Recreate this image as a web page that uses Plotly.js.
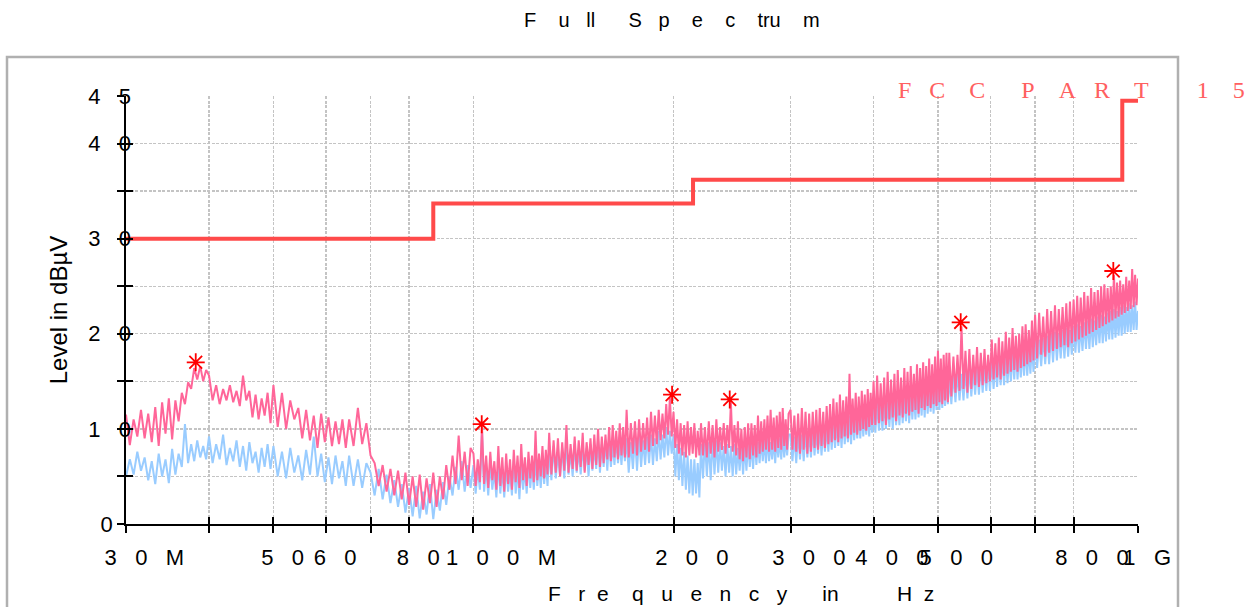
<!DOCTYPE html>
<html><head><meta charset="utf-8">
<script src="https://cdn.plot.ly/plotly-3.0.1.min.js"></script>
<style>html,body{margin:0;padding:0;background:#fff}</style>
</head><body><div id="chart" style="width:1253px;height:607px"></div>
<script>
// Frequencies in MHz
const freqMHz = [
 30,30.4,30.8,31.2,31.6,32,32.4,32.8,33.2,33.6,34,34.4,34.8,35.2,35.6,36,36.4,36.8,37.2,37.6,38,38.4,38.8,39.2,39.6,
 40,40.5,41,41.5,42,42.5,43,43.5,44,44.5,45,45.5,46,46.5,47,47.5,48,48.5,49,49.5,
 50,50.75,51.5,52.25,53,53.75,54.5,55.25,56,56.75,57.5,58.25,59,59.75,60.5,61.25,62,62.75,63.5,64.25,
 65,66,67,68,69,70,71,72,73,74,75,76,77,78,79,80,81,82,83,84,85,86,87,88,89,90,91,92,93,94,95,96,97,98,99,
 100,100.75,101.5,102.25,103,103.75,104.5,105.25,106,106.75,107.5,108.25,109,109.75,110.5,111.25,112,112.75,113.5,114.25,
 115,115.75,116.5,117.25,118,118.75,119.5,120.25,121,121.75,122.5,123.25,124,124.75,125.5,126.25,127,127.75,128.5,129.25,
 130,131,132,133,134,135,136,137,138,139,140,141,142,143,144,145,146,147,148,149,
 150,151,152,153,154,155,156,157,158,159,160,161,162,163,164,165,166,167,168,169,
 170,171.25,172.5,173.75,175,176.25,177.5,178.75,180,181.25,182.5,183.75,185,186.25,187.5,188.75,190,191.25,192.5,193.75,
 195,196.25,197.5,198.75,200,201.25,202.5,203.75,205,206.25,207.5,208.75,210,211.25,212.5,213.75,215,216.25,217.5,218.75,
 220,221.5,223,224.5,226,227.5,229,230.5,232,233.5,235,236.5,238,239.5,241,242.5,244,245.5,247,248.5,
 250,251.5,253,254.5,256,257.5,259,260.5,262,263.5,265,266.5,268,269.5,271,272.5,274,275.5,277,278.5,
 280,281.5,283,284.5,286,287.5,289,290.5,292,293.5,295,296.5,298,
 300,302,304,306,308,310,312,314,316,318,320,322,324,326,328,330,332,334,336,338,
 340,342,344,346,348,350,352,354,356,358,360,362,364,366,368,370,372,374,376,378,
 380,382,384,386,388,390,392,394,396,398,
 400,402.5,405,407.5,410,412.5,415,417.5,420,422.5,425,427.5,430,432.5,435,437.5,440,442.5,445,447.5,
 450,452.5,455,457.5,460,462.5,465,467.5,470,472.5,475,477.5,480,482.5,485,487.5,490,492.5,495,497.5,
 500,502.5,505,507.5,510,512.5,515,517.5,
 520,523.75,527.5,531.25,535,538.75,542.5,546.25,550,553.75,557.5,561.25,565,568.75,572.5,576.25,580,583.75,587.5,591.25,
 595,598.75,602.5,606.25,610,613.75,617.5,621.25,625,628.75,632.5,636.25,640,643.75,647.5,651.25,655,658.75,662.5,666.25,
 670,673.75,677.5,681.25,685,688.75,692.5,696.25,
 700,705,710,715,720,725,730,735,740,745,750,755,760,765,770,775,780,785,790,795,
 800,805,810,815,820,825,830,835,840,845,850,855,860,865,870,875,880,885,890,895,
 900,905,910,915,920,925,930,935,940,945,950,955,960,965,970,975,980,985,990,995,1000
];
// Peak detector level (dBµV)
const peakLevel = [
 11.5,8.3,11.0,9.2,12.0,9.0,11.6,8.6,12.3,8.2,12.8,9.5,13.2,8.9,13.0,10.8,13.8,12.6,14.9,14.2,16.4,15.2,16.6,15.0,16.2,
 15.6,13.0,14.6,12.6,14.2,13.0,14.6,12.8,14.0,12.4,15.6,13.0,14.0,11.2,13.6,11.0,13.2,11.4,13.8,10.6,
 14.6,10.2,13.8,10.0,13.0,11.0,12.2,9.0,12.0,8.8,11.4,8.0,11.6,8.6,11.2,8.2,10.8,8.4,11.0,8.0,
 11.0,8.2,12.2,8.4,10.6,7.2,6.4,4.0,6.2,3.4,5.8,3.0,5.6,2.6,5.4,2.0,5.0,1.8,5.2,1.5,4.8,2.2,5.4,1.8,5.0,2.6,6.2,3.6,7.2,4.2,9.3,4.6,7.6,4.0,8.0,
 7.4,4.0,6.8,4.4,10.2,4.2,7.2,3.8,7.6,4.6,6.6,3.6,8.2,4.0,7.0,3.4,7.4,4.2,6.8,3.6,
 7.8,4.4,7.2,3.8,8.4,4.6,7.0,4.0,7.6,4.8,7.2,4.4,9.8,4.6,7.4,5.0,8.2,4.8,7.8,5.2,
 9.6,5.2,8.8,5.4,9.0,5.0,8.6,5.6,10.4,5.4,8.4,5.8,9.2,5.6,8.8,6.0,9.6,5.4,8.6,6.2,
 9.0,5.8,9.4,6.2,10.0,6.0,9.2,6.4,9.4,6.8,10.2,6.6,10.4,7.0,9.8,6.8,10.6,7.2,10.2,7.0,
 12.0,7.0,10.6,7.4,10.8,7.2,11.0,7.6,10.6,7.8,11.2,7.6,11.8,8.2,11.4,8.4,12.0,8.8,11.6,9.0,
 12.6,9.4,13.3,9.2,11.8,8.0,11.0,7.4,10.6,7.2,10.4,7.0,10.8,7.2,10.2,7.4,10.6,7.0,9.8,7.2,
 10.6,7.2,10.2,7.0,10.8,7.4,10.4,7.0,11.0,7.6,10.2,7.8,10.6,7.4,10.4,8.0,12.8,7.6,10.4,7.2,
 10.8,6.8,10.0,6.6,10.2,7.0,10.6,6.8,10.6,7.2,10.4,7.0,11.4,7.4,10.8,7.6,11.0,7.8,11.4,7.6,
 12.0,7.8,11.2,7.6,11.4,8.0,11.8,7.8,12.2,8.2,11.0,7.8,11.6,
 12.0,7.8,11.4,7.6,11.6,7.4,12.2,7.8,11.8,7.4,11.6,7.6,11.8,8.0,12.0,7.8,12.2,8.2,11.8,8.0,
 12.4,8.4,12.6,8.6,13.2,8.8,12.8,8.6,13.6,9.0,13.0,9.2,13.4,9.0,15.8,9.4,13.2,9.6,13.8,9.4,
 13.4,9.8,14.0,10.0,13.6,9.8,14.2,10.2,13.8,10.4,
 15.0,10.4,15.6,10.6,14.8,10.8,15.4,10.4,16.0,11.0,15.2,11.2,15.8,10.8,16.2,11.4,15.4,11.2,16.4,11.6,
 16.0,11.4,16.6,11.8,15.8,12.0,16.8,11.6,16.4,12.2,17.0,12.0,16.6,12.4,17.4,12.2,16.8,12.6,17.6,12.4,
 18.2,12.8,17.4,12.6,17.8,13.0,18.0,12.8,
 18.0,13.4,17.6,13.8,17.8,14.0,20.8,14.2,18.2,13.8,18.4,14.2,17.8,14.6,18.6,14.4,18.0,14.6,18.4,14.8,
 17.8,15.0,19.4,15.2,19.0,15.4,19.6,15.2,19.2,15.6,20.2,15.8,19.6,16.0,20.6,16.2,19.8,16.0,20.0,16.4,
 20.8,16.6,21.0,16.8,20.4,17.0,21.4,17.2,
 22.0,17.4,22.2,17.8,21.8,17.6,22.6,18.0,22.4,18.2,23.0,18.4,22.6,18.6,22.8,18.8,23.2,18.6,23.4,19.0,
 23.6,19.2,24.0,19.4,23.8,19.6,24.4,19.8,24.0,20.0,24.8,20.2,24.4,20.4,24.6,20.6,25.0,20.8,25.2,21.0,
 24.8,21.2,25.0,21.4,26.2,21.6,25.4,21.8,25.6,22.0,25.2,22.2,26.0,22.4,25.6,22.6,26.8,22.8,26.2,23.0,25.8
];
// Average detector level (dBµV)
const avgLevel = [
 5.0,6.8,5.2,7.6,5.6,7.0,4.6,6.6,4.2,7.4,5.0,6.8,4.3,7.9,5.2,7.4,6.0,10.5,6.4,8.4,6.6,8.8,7.0,8.2,6.8,
 9.2,6.4,8.4,6.8,9.4,6.2,8.0,6.6,8.8,6.0,8.2,5.6,8.6,6.4,7.6,5.4,8.0,6.0,8.4,5.8,
 8.2,5.0,7.6,4.8,8.0,5.4,7.2,4.6,7.8,5.2,9.2,5.0,7.4,4.4,7.0,4.2,7.2,4.8,6.6,4.0,
 7.2,4.0,6.8,3.8,6.4,5.4,3.0,5.8,2.6,5.2,2.2,4.6,1.8,4.2,1.2,3.8,0.8,4.0,0.6,3.4,1.0,4.2,0.5,3.6,1.4,4.4,2.0,5.0,3.0,6.0,3.6,6.6,3.4,6.2,3.8,
 6.2,3.2,5.8,3.6,9.8,3.4,6.0,3.0,6.4,3.6,5.6,2.8,6.4,3.2,5.8,2.8,6.2,3.4,5.6,3.0,
 6.8,3.2,6.0,2.6,6.2,3.6,5.8,3.2,6.6,3.8,6.2,3.6,7.0,4.0,6.4,3.8,6.8,4.2,6.6,4.0,
 7.8,4.6,8.2,4.8,7.4,5.0,8.0,4.8,8.6,5.2,7.6,5.0,8.4,5.4,7.8,5.2,8.2,5.6,8.0,5.0,
 8.4,5.6,8.0,5.8,8.8,5.4,8.4,6.0,8.8,5.6,9.0,6.0,8.4,6.2,9.2,6.4,8.6,6.2,9.0,6.6,
 9.0,5.4,8.6,5.8,9.2,5.6,9.4,6.0,8.8,6.2,9.2,6.4,9.4,6.2,9.0,6.6,9.8,6.8,9.4,7.0,
 10.2,7.2,9.8,7.4,9.4,5.0,8.4,4.6,8.0,4.0,7.6,3.6,7.2,3.2,6.8,3.0,6.8,3.2,6.4,2.8,
 8.4,4.8,8.8,5.0,8.6,4.6,9.0,5.2,8.8,5.4,8.6,5.6,8.2,5.0,8.4,5.4,8.2,5.0,8.4,5.2,
 8.0,5.6,8.4,5.2,8.2,5.6,8.6,6.0,8.4,5.8,8.8,6.2,8.6,6.4,9.0,6.6,8.8,6.4,9.2,6.6,
 8.6,6.8,9.0,6.4,9.2,7.0,9.0,6.8,9.4,7.0,9.0,7.2,9.4,
 9.4,6.6,9.2,6.4,9.6,6.8,9.4,6.6,9.8,7.0,9.6,7.0,10.0,7.2,9.8,7.4,10.2,7.2,10.0,7.6,
 10.4,7.6,10.6,7.8,10.8,8.0,10.6,8.2,11.0,8.0,11.2,8.4,11.0,8.6,11.4,8.4,11.6,8.8,11.2,9.0,
 11.8,9.0,12.0,9.2,11.6,9.4,12.2,9.2,12.0,9.6,
 12.4,9.6,12.8,9.8,12.6,9.8,13.0,10.0,12.8,10.2,13.2,10.0,13.4,10.4,13.0,10.4,13.6,10.6,13.4,10.8,
 13.8,10.6,14.0,11.0,13.6,11.0,14.2,11.2,14.0,11.4,14.6,11.2,14.8,11.6,14.4,11.8,15.0,11.6,15.2,12.0,
 15.4,12.0,15.0,12.2,15.6,12.4,15.4,12.6,
 15.6,12.6,15.8,12.8,16.0,13.0,15.8,13.0,16.2,13.2,16.4,13.4,16.2,13.6,16.6,13.6,16.8,13.8,16.6,14.0,
 17.0,14.0,17.2,14.2,17.0,14.4,17.4,14.6,17.6,14.6,17.8,14.8,17.6,15.0,18.0,15.2,18.2,15.2,18.0,15.4,
 18.4,15.6,18.6,15.6,18.4,15.8,18.8,16.0,
 19.2,16.4,19.4,16.6,19.6,16.8,19.8,16.8,20.0,17.0,20.2,17.2,20.0,17.4,20.4,17.4,20.6,17.6,20.4,17.8,
 20.8,18.0,21.0,18.0,20.8,18.2,21.2,18.4,21.4,18.4,21.6,18.6,21.4,18.8,21.8,19.0,22.0,19.0,21.8,19.2,
 22.2,19.4,22.4,19.4,22.6,19.6,22.4,19.8,22.8,19.8,23.0,20.0,22.8,20.2,23.2,20.2,23.0,20.4,23.4,20.4,22.4
];
// FCC Part 15 limit (step)
const limitFreq = [30, 87, 214, 947, 1000];
const limitLevel = [30, 33.7, 36.2, 44.5, 44.5];
// Peak markers
const markFreq = [38.2, 102.9, 199, 243, 541, 918];
const markLevel = [17.0, 10.5, 13.6, 13.1, 21.2, 26.6];
// Axis ticks
const xTickVals = [30,40,50,60,70,80,100,200,300,400,500,600,700,800,1000];
const xTickLabels = ['30M','','50','60','','80','100M','200','300','400','500','','','800','1G'];
const yTickVals = [0,5,10,15,20,25,30,35,40,45];
const yLabelVals = [0,10,20,30,40,45];
const yLabelText = ['0','10','20','30','40','45'];

const NB = '\u00a0';
const g = n => NB.repeat(n);
const spaced = (s, n) => s.split('').join(g(n));
const xTick = s => s ? g(3*(s.length-1)) + spaced(s,3) : '';
const yTick = s => spaced(s,3) + g(3*(2-s.length));

const FONT = 'Liberation Sans, Arial, sans-serif';
const titleText = 'F'+g(4)+'u'+g(3)+'ll'+g(6)+'S'+g(3)+'p'+g(4)+'e'+g(4)+'c'+g(4)+'tru'+g(4)+'m';
const xTitleText = 'F'+g(3)+'r'+g(2)+'e'+g(4)+'q'+g(3)+'u'+g(3)+'e'+g(3)+'n'+g(3)+'c'+g(3)+'y'+g(6)+'in'+g(10)+'H'+g(2)+'z';
const fccText = 'F'+g(3)+'C'+g(4)+'C'+g(6)+'P'+g(4)+'A'+g(3)+'R'+g(4)+'T'+g(8)+'1'+g(4)+'5';

const L = 40, R = 115, T = 96, B = 83, W = 1253, H = 607;
const PW = W - L - R;
const dom0 = (126 - L) / PW;
const px2x = p => (p - L) / PW;
const py2y = p => (524 - p) / 428;

const traces = [
  {x: freqMHz, y: avgLevel, type: 'scatter', mode: 'lines', line: {color: '#99ccff', width: 2}, hoverinfo: 'skip'},
  {x: freqMHz, y: peakLevel, type: 'scatter', mode: 'lines', line: {color: '#ff6699', width: 2}, hoverinfo: 'skip'},
  {x: limitFreq, y: limitLevel, xaxis: 'x2', yaxis: 'y3', type: 'scatter', mode: 'lines',
   line: {color: '#ff4a4a', width: 4, shape: 'hv'}, hoverinfo: 'skip'},
  {x: markFreq, y: markLevel, xaxis: 'x', yaxis: 'y2', type: 'scatter', mode: 'markers',
   marker: {symbol: 'asterisk-open', size: 15, color: '#ff0000', line: {color: '#ff0000', width: 1.8}}, hoverinfo: 'skip'}
];

const gridStyle = {gridcolor: '#c4c4c4', griddash: '3px,1.5px', gridwidth: 1.4};

const layout = {
  width: W, height: H,
  margin: {l: L, r: R, t: T, b: B, pad: 0},
  paper_bgcolor: '#ffffff', plot_bgcolor: '#ffffff',
  showlegend: false,
  font: {family: FONT, color: '#000000'},
  title: {text: titleText, font: {size: 20, family: FONT, color: '#000'}, xref: 'paper', x: px2x(524), xanchor: 'left', y: 1 - 20/H, yanchor: 'middle'},
  xaxis: Object.assign({
    type: 'log', range: [Math.log10(30), 3], domain: [dom0, 1], anchor: 'y',
    tickmode: 'array', tickvals: xTickVals, ticktext: xTickLabels.map(xTick), tickangle: 0,
    ticks: 'outside', ticklen: 7, tickwidth: 2, tickcolor: '#000',
    ticklabelstandoff: 6,
    tickfont: {size: 22, family: FONT, color: '#000'},
    showline: true, linecolor: '#000', linewidth: 2, zeroline: false, showgrid: true
  }, gridStyle),
  xaxis2: {
    type: 'log', range: [Math.log10(30), 3], overlaying: 'x', anchor: 'y',
    tickmode: 'array', tickvals: xTickVals, ticks: 'inside', ticklen: 7, tickwidth: 2, tickcolor: '#000',
    showticklabels: false, showgrid: false, zeroline: false, showline: false
  },
  yaxis: Object.assign({
    range: [0, 45], domain: [0, 1], anchor: 'x',
    tickmode: 'array', tickvals: yTickVals, showticklabels: false,
    ticks: 'outside', ticklen: 7, tickwidth: 2, tickcolor: '#000',
    showline: true, linecolor: '#000', linewidth: 2, zeroline: false, showgrid: true
  }, gridStyle),
  yaxis3: {
    range: [0, 45], overlaying: 'y', anchor: 'x',
    tickmode: 'array', tickvals: yTickVals, showticklabels: false,
    ticks: 'inside', ticklen: 7, tickwidth: 2, tickcolor: '#000',
    showline: false, showgrid: false, zeroline: false
  },
  yaxis2: {
    range: [0, 45], overlaying: 'y', anchor: 'free', position: px2x(131), side: 'left',
    tickmode: 'array', tickvals: yLabelVals, ticktext: yLabelText.map(yTick),
    ticks: '', showline: false, showgrid: false, zeroline: false,
    tickfont: {size: 22, family: FONT, color: '#000'},
    title: {text: 'Level in dBµV', font: {size: 24, family: FONT, color: '#000'}, standoff: 12}
  },
  shapes: [
    {type: 'rect', xref: 'paper', yref: 'paper', x0: px2x(7), x1: px2x(1178), y0: py2y(640), y1: py2y(57),
     line: {color: '#b0b0b0', width: 2.5}, fillcolor: 'rgba(0,0,0,0)', layer: 'below'}
  ],
  annotations: [
    {text: fccText, xref: 'paper', yref: 'paper', x: px2x(896), y: py2y(90), xanchor: 'left', yanchor: 'middle',
     showarrow: false, font: {family: 'Liberation Serif, DejaVu Serif, serif', size: 24, color: '#ff6060'}},
    {text: xTitleText, xref: 'paper', yref: 'paper', x: px2x(546), y: py2y(593), xanchor: 'left', yanchor: 'middle',
     showarrow: false, font: {family: FONT, size: 21, color: '#000'}}
  ]
};

Plotly.newPlot('chart', traces, layout, {displayModeBar: false, staticPlot: true});
</script>
</body></html>
